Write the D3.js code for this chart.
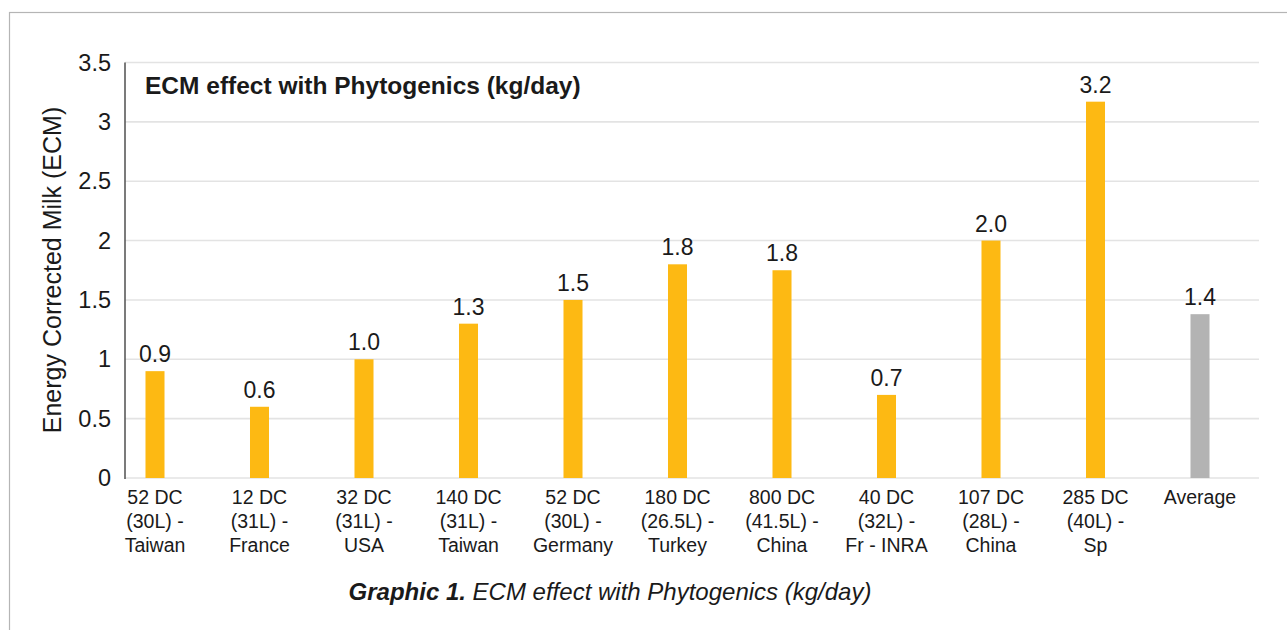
<!DOCTYPE html>
<html>
<head>
<meta charset="utf-8">
<script src="https://cdn.jsdelivr.net/npm/d3@7"></script>
<style>
  html, body { margin: 0; padding: 0; background: #fff; }
  svg { display: block; font-family: "Liberation Sans", Arial, sans-serif; }
</style>
</head>
<body>
<svg id="chart" width="1287" height="630"></svg>
<script>
const categories = [
  ["52 DC", "(30L) -", "Taiwan"],
  ["12 DC", "(31L) -", "France"],
  ["32 DC", "(31L) -", "USA"],
  ["140 DC", "(31L) -", "Taiwan"],
  ["52 DC", "(30L) -", "Germany"],
  ["180 DC", "(26.5L) -", "Turkey"],
  ["800 DC", "(41.5L) -", "China"],
  ["40 DC", "(32L) -", "Fr - INRA"],
  ["107 DC", "(28L) -", "China"],
  ["285 DC", "(40L) -", "Sp"],
  ["Average"]
];
const values = [0.9, 0.6, 1.0, 1.3, 1.5, 1.8, 1.75, 0.7, 2.0, 3.17, 1.38];
const valueLabels = ["0.9", "0.6", "1.0", "1.3", "1.5", "1.8", "1.8", "0.7", "2.0", "3.2", "1.4"];
const yTicks = [0, 0.5, 1, 1.5, 2, 2.5, 3, 3.5];
const yTickLabels = ["0", "0.5", "1", "1.5", "2", "2.5", "3", "3.5"];
const chartTitle = "ECM effect with Phytogenics (kg/day)";
const yAxisTitle = "Energy Corrected Milk (ECM)";
const captionBold = "Graphic 1.";
const captionRest = " ECM effect with Phytogenics (kg/day)";

const svg = d3.select("#chart");
const textColor = "#1a1a1a";

// outer frame
svg.append("rect")
  .attr("x", 9.5).attr("y", 12.5)
  .attr("width", 1300).attr("height", 640)
  .attr("fill", "none").attr("stroke", "#b5b5b5").attr("stroke-width", 1.2);

const plotLeft = 125, plotRight = 1259, plotTop = 62.5, plotBottom = 478;

const y = d3.scaleLinear().domain([0, 3.5]).range([plotBottom, plotTop]);
const x = d3.scaleBand()
  .domain(categories.map((d, i) => i))
  .range([102.75, 1252.25])
  .paddingInner(0.818).paddingOuter(0.409);

// gridlines
svg.append("g").selectAll("line").data(yTicks).join("line")
  .attr("x1", plotLeft).attr("x2", plotRight)
  .attr("y1", d => y(d)).attr("y2", d => y(d))
  .attr("stroke", "#e3e3e3").attr("stroke-width", 1.6);

// y axis tick labels
const yAxis = d3.axisLeft(y).tickValues(yTicks)
  .tickFormat((d, i) => yTickLabels[i]).tickSize(0).tickPadding(14);
const yg = svg.append("g").attr("transform", `translate(${plotLeft},0)`).call(yAxis);
yg.select(".domain").remove();
yg.selectAll("text")
  .attr("font-size", 23.5).attr("fill", textColor)
  .attr("font-family", "Liberation Sans, Arial, sans-serif");

// bars
svg.append("g").selectAll("rect").data(values).join("rect")
  .attr("x", (d, i) => x(i))
  .attr("width", x.bandwidth())
  .attr("y", d => y(d))
  .attr("height", d => y(0) - y(d))
  .attr("fill", (d, i) => i === values.length - 1 ? "#b3b3b3" : "#fdb913");

// y axis line
svg.append("line")
  .attr("x1", plotLeft).attr("x2", plotLeft)
  .attr("y1", plotTop).attr("y2", plotBottom + 1)
  .attr("stroke", "#5a5a5a").attr("stroke-width", 1.6);

// value labels
svg.append("g").selectAll("text").data(values).join("text")
  .attr("x", (d, i) => x(i) + x.bandwidth() / 2)
  .attr("y", d => y(d) - 9)
  .attr("text-anchor", "middle")
  .attr("font-size", 23).attr("fill", textColor)
  .text((d, i) => valueLabels[i]);

// x labels
const xl = svg.append("g").selectAll("text").data(categories).join("text")
  .attr("x", (d, i) => x(i) + x.bandwidth() / 2)
  .attr("y", 504)
  .attr("text-anchor", "middle")
  .attr("font-size", 19.5).attr("fill", textColor);
xl.selectAll("tspan").data(d => d).join("tspan")
  .attr("x", function () { return d3.select(this.parentNode).attr("x"); })
  .attr("dy", (d, j) => j === 0 ? 0 : 24)
  .text(d => d);

// chart title
svg.append("text")
  .attr("x", 145).attr("y", 94)
  .attr("font-size", 24.5).attr("font-weight", "bold").attr("fill", textColor)
  .text(chartTitle);

// y axis title
svg.append("text")
  .attr("transform", "translate(61,270) rotate(-90)")
  .attr("text-anchor", "middle")
  .attr("font-size", 25).attr("fill", textColor)
  .text(yAxisTitle);

// caption
const cap = svg.append("text")
  .attr("x", 610).attr("y", 600)
  .attr("text-anchor", "middle")
  .attr("font-size", 24).attr("font-style", "italic").attr("fill", textColor);
cap.append("tspan").attr("font-weight", "bold").text(captionBold);
cap.append("tspan").text(captionRest);
</script>
</body>
</html>
